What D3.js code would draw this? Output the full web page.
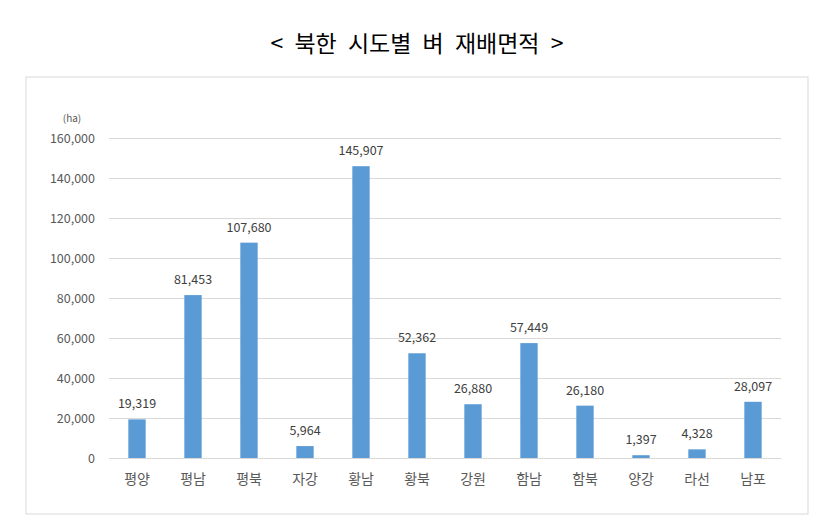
<!DOCTYPE html>
<html><head><meta charset="utf-8">
<script src="https://cdnjs.cloudflare.com/ajax/libs/d3/7.8.5/d3.min.js"></script>
<style>body{margin:0;background:#fff}svg{display:block}</style>
</head><body><svg id="c" width="838" height="517"></svg>
<script>
const categories = ["평양","평남","평북","자강","황남","황북","강원","함남","함북","양강","라선","남포"];
const values = [19319,81453,107680,5964,145907,52362,26880,57449,26180,1397,4328,28097];
const yTicks = [0,20000,40000,60000,80000,100000,120000,140000,160000];
const title = "< 북한 시도별 벼 재배면적 >";
const unit = "(ha)";

const svg = d3.select("#c");
const font = "'Noto Sans CJK KR','Noto Sans',sans-serif";
const m = {left:109, right:781, top:138, bottom:458};

svg.append("text").attr("x",417).attr("y",52).attr("text-anchor","middle")
  .attr("font-family",font).attr("font-size",23).attr("fill","#000").attr("word-spacing","6")
  .text(title);

svg.append("rect").attr("x",26).attr("y",77).attr("width",782).attr("height",437)
  .attr("fill","#fff").attr("stroke","#d9d9d9").attr("stroke-width",1);

const x = d3.scaleBand().domain(categories).range([m.left,m.right]).paddingInner(0.69).paddingOuter(0.345);
const y = d3.scaleLinear().domain([0,160000]).range([m.bottom,m.top]);

const ya = svg.append("g").attr("transform",`translate(${m.left},0)`)
  .call(d3.axisLeft(y).tickValues(yTicks).tickSize(-(m.right-m.left)).tickPadding(14).tickFormat(d3.format(",")));
ya.select(".domain").remove();
ya.selectAll(".tick line").attr("stroke","#d9d9d9");
ya.selectAll(".tick text").attr("font-family",font).attr("font-size",12.5).attr("fill","#595959");

svg.append("text").attr("x",72).attr("y",122).attr("text-anchor","middle")
  .attr("font-family",font).attr("font-size",10).attr("fill","#595959").text(unit);

svg.selectAll("rect.bar").data(values).enter().append("rect").attr("class","bar")
  .attr("x",(d,i)=>x(categories[i])).attr("width",x.bandwidth())
  .attr("y",d=>y(d)).attr("height",d=>y(0)-y(d)).attr("fill","#5b9bd5");

svg.selectAll("text.lbl").data(values).enter().append("text").attr("class","lbl")
  .attr("x",(d,i)=>x(categories[i])+x.bandwidth()/2).attr("y",d=>y(d)-11)
  .attr("text-anchor","middle").attr("font-family",font).attr("font-size",12.5).attr("fill","#404040")
  .text(d=>d3.format(",")(d));

const xa = svg.append("g").attr("transform",`translate(0,${m.bottom})`)
  .call(d3.axisBottom(x).tickSize(0).tickPadding(16));
xa.select(".domain").attr("stroke","#d9d9d9");
xa.selectAll(".tick text").attr("font-family",font).attr("font-size",14).attr("fill","#595959");
</script></body></html>
